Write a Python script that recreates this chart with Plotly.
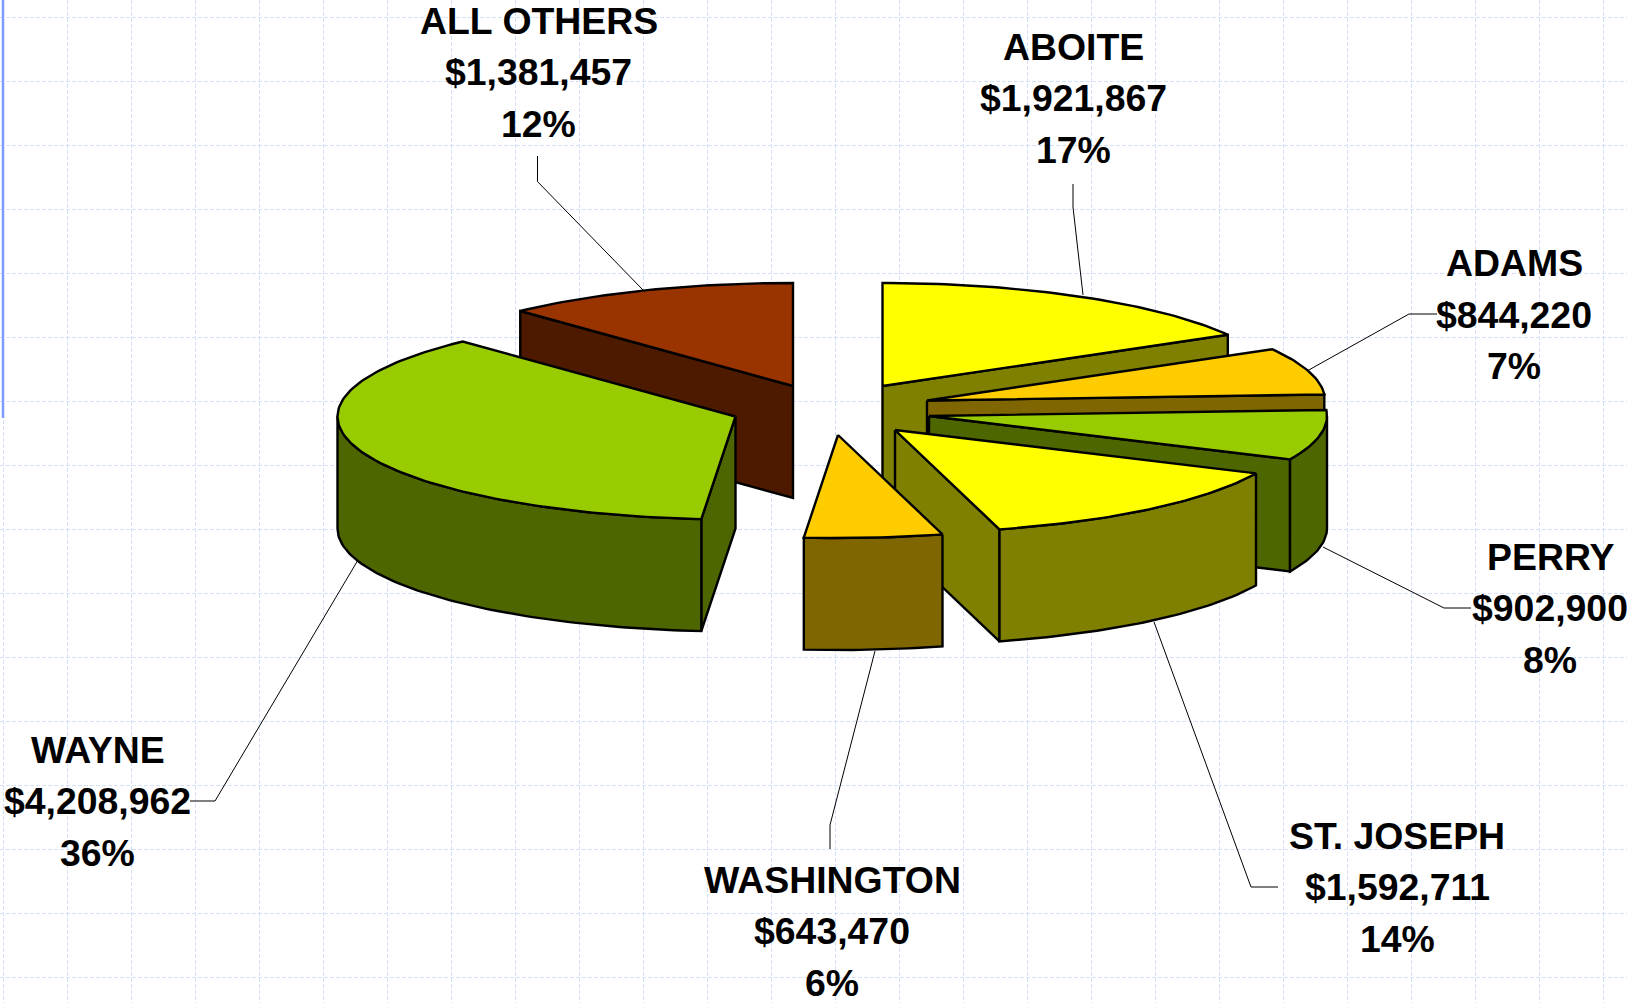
import numpy as np
import plotly.graph_objects as go

# ---- data (clockwise from 12 o'clock) ----
categories = ["ABOITE", "ADAMS", "PERRY", "ST. JOSEPH", "WASHINGTON", "WAYNE", "ALL OTHERS"]
values = [1921867, 844220, 902900, 1592711, 643470, 4208962, 1381457]
percents = ["17%", "7%", "8%", "14%", "6%", "36%", "12%"]

# ---- styling / layout, kept apart from the data ----
W, H = 1627, 1003
RX, RY, DEPTH = 398, 103, 112            # projected pie radii and wall height
top_colors = ["#FFFF00", "#FFCC00", "#99CC00", "#FFFF00", "#FFCC00", "#99CC00", "#993300"]
side_colors = ["#808000", "#806600", "#4D6600", "#808000", "#806600", "#4D6600", "#4D1A00"]
# where each exploded slice's tip sits on the page
tips = [(882.5, 386), (927, 400.5), (929, 416), (895, 430), (838, 435), (735.5, 416.5), (793, 386)]
label_x = [1073, 1514, 1550, 1397, 832, 97.5, 538.5]
label_y = [98, 314.5, 608, 887, 931, 801, 72]
LINE_GAP = 51.5
leaders = [
    [(1073, 184), (1073, 207), (1083, 295)],
    [(1437, 314), (1409, 314), (1307, 371)],
    [(1471, 608), (1444, 608), (1323, 547)],
    [(1278, 887), (1251, 887), (1154, 622)],
    [(830, 849), (830, 825), (875, 651)],
    [(190, 801), (215, 801), (358, 560)],
    [(537.5, 156), (537.5, 181.6), (643, 290)],
]
draw_order = [6, 0, 1, 2, 3, 4, 5]

total = sum(values)
edges = np.concatenate([[0], np.cumsum(values)]) / total * 360.0


def rim(tip, a0, a1):
    n = max(2, int(abs(a1 - a0)) + 1)
    t = np.radians(np.linspace(a0, a1, n))
    return tip[0] + RX * np.sin(t), tip[1] - RY * np.cos(t)


def poly(fig, xs, ys, fill):
    fig.add_trace(go.Scatter(
        x=list(xs) + [xs[0]], y=list(ys) + [ys[0]], mode="lines", fill="toself",
        fillcolor=fill, line=dict(color="#000000", width=2.4), hoverinfo="skip", showlegend=False))


def radial_wall(fig, tip, ang, fill):
    ex, ey = rim(tip, ang, ang)
    xs = [tip[0], ex[0], ex[0], tip[0]]
    ys = [tip[1], ey[0], ey[0] + DEPTH, tip[1] + DEPTH]
    poly(fig, xs, ys, fill)


fig = go.Figure()

# leader lines sit beneath the slices
for pts in leaders:
    fig.add_trace(go.Scatter(
        x=[p[0] for p in pts], y=[p[1] for p in pts], mode="lines",
        line=dict(color="#000000", width=1), hoverinfo="skip", showlegend=False))

for i in draw_order:
    s, e = edges[i], edges[i + 1]
    tip = tips[i]
    if np.sin(np.radians(s)) < -1e-6:
        radial_wall(fig, tip, s, side_colors[i])
    if np.sin(np.radians(e)) > 1e-6:
        radial_wall(fig, tip, e, side_colors[i])
    lo, hi = max(s, 90), min(e, 270)
    if hi > lo:
        ax, ay = rim(tip, lo, hi)
        poly(fig, list(ax) + list(ax[::-1]), list(ay) + list((ay + DEPTH)[::-1]), side_colors[i])
    rx_, ry_ = rim(tip, s, e)
    poly(fig, [tip[0]] + list(rx_), [tip[1]] + list(ry_), top_colors[i])

# left-edge accent bar of the slide
fig.add_shape(type="line", x0=3, x1=3, y0=0, y1=418, line=dict(color="#7F9BFF", width=2.5), layer="above")

for i, name in enumerate(categories):
    lines = [name, f"${values[i]:,}", percents[i]]
    for k, txt in enumerate(lines):
        fig.add_annotation(
            x=label_x[i], y=label_y[i] + (k - 1) * LINE_GAP, text=f"<b>{txt}</b>",
            showarrow=False, xanchor="center", yanchor="middle",
            font=dict(family="Liberation Sans", size=37.4, color="#000000"))

grid = dict(showgrid=True, gridcolor="#D6E0FB", gridwidth=1, griddash="4px,2px",
            zeroline=False, showticklabels=False, ticks="", showline=False, fixedrange=True)
fig.update_xaxes(range=[0, W], tick0=3, dtick=64, **grid)
fig.update_yaxes(range=[H, 0], tick0=17, dtick=64, **grid)
fig.update_layout(width=W, height=H, margin=dict(l=0, r=0, t=0, b=0),
                  paper_bgcolor="#FFFFFF", plot_bgcolor="#FFFFFF", showlegend=False)

fig.write_html("out.html", config={"displayModeBar": False},
               post_script="document.body.style.margin='0';document.body.style.overflow='hidden';")
